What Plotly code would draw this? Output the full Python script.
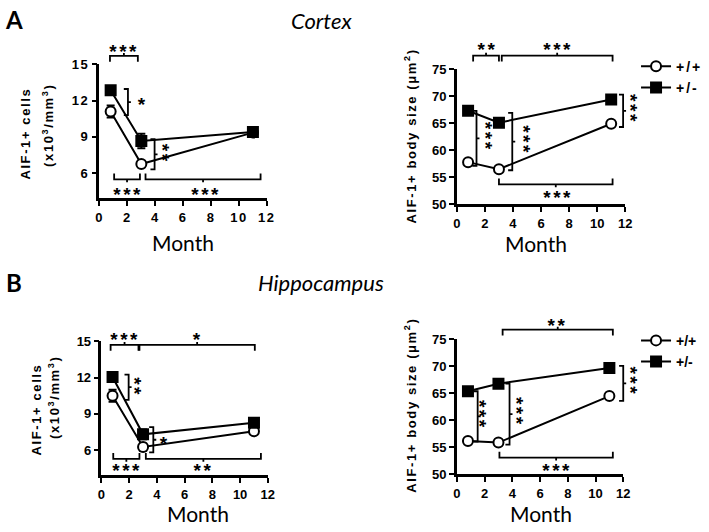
import plotly.graph_objects as go

# ---------------- data ----------------
months = [0.8, 3, 11]

ctx_cells_wt = [11.1, 6.75, 9.35]
ctx_cells_wt_err = [0.5, 0.25, 0.2]
ctx_cells_het = [12.85, 8.65, 9.4]
ctx_cells_het_err = [0.35, 0.6, 0.2]

ctx_size_wt = [57.8, 56.5, 64.9]
ctx_size_wt_err = [0.4, 0.4, 0.4]
ctx_size_het = [67.3, 65.1, 69.4]
ctx_size_het_err = [0.4, 0.7, 0.4]

hip_cells_wt = [10.5, 6.25, 7.55]
hip_cells_wt_err = [0.5, 0.3, 0.2]
hip_cells_het = [12.05, 7.3, 8.25]
hip_cells_het_err = [0.3, 0.4, 0.2]

hip_size_wt = [56.2, 55.9, 64.5]
hip_size_wt_err = [0.3, 0.3, 0.3]
hip_size_het = [65.4, 66.8, 69.7]
hip_size_het_err = [0.3, 0.6, 0.7]

x_ticks = [0, 2, 4, 6, 8, 10, 12]
cells_ticks = [6, 9, 12, 15]
size_ticks = [50, 55, 60, 65, 70, 75]
genotypes = ["+/+", "+/-"]

# significance brackets: (x0, x1, y, legs, text, text_x, text_y) horizontal
hbr = {
    1: [(0.75, 2.75, 15.7, "down", "***", 1.75, 16.4),
        (1.05, 2.9, 5.48, "up", "***", 2.0, 4.55),
        (3.3, 11.55, 5.48, "up", "***", 7.6, 4.55)],
    2: [(1.16, 3.0, 77.5, "down", "**", 2.1, 79.4),
        (3.2, 11.1, 77.5, "down", "***", 7.2, 79.4),
        (3.0, 11.1, 53.7, "up", "***", 7.2, 52.0)],
    3: [(0.66, 2.67, 14.7, "down", "***", 1.63, 15.5),
        (2.74, 11.06, 14.7, "down", "*", 6.9, 15.5),
        (0.85, 2.74, 5.27, "up", "***", 1.77, 4.6),
        (3.2, 11.5, 5.27, "up", "**", 7.3, 4.6)],
    4: [(3.3, 11.25, 76.8, "down", "**", 7.2, 78.3),
        (3.07, 11.25, 53.1, "up", "***", 7.2, 51.5)],
}
# vertical brackets: (x, y0, y1, text, text_x, text_y, rotated)
vbr = {
    1: [(2.04, 10.8, 12.96, "*", 3.1, 12.0, False),
        (3.95, 6.3, 8.8, "**", 4.8, 7.6, True)],
    2: [(1.4, 57.1, 67.3, "***", 2.3, 62.5, True),
        (3.95, 56.3, 66.9, "***", 5.0, 61.9, True),
        (11.85, 64.3, 70.3, "***", 12.65, 67.6, True)],
    3: [(1.96, 10.15, 12.25, "**", 2.67, 11.2, True),
        (3.74, 5.8, 7.9, "*", 4.56, 6.9, False)],
    4: [(1.5, 56.1, 65.4, "***", 1.95, 60.9, True),
        (3.8, 55.5, 66.8, "***", 4.6, 61.5, True),
        (12.0, 63.6, 70.1, "***", 12.8, 67.2, True)],
}

# ---------------- layout geometry ----------------
W, H = 709, 532
boxes = {  # left, right, top, bottom (px)
    1: (97, 267, 59, 197),
    2: (460, 631, 64, 203),
    3: (99, 268, 344, 482),
    4: (460, 629, 342, 481),
}
yranges = {1: [3.9, 15], 2: [50, 75], 3: [3.9, 15], 4: [50, 75]}
xr = [0, 12]

BOLD = "Liberation Sans"
CAL = "Lato"
STAR = dict(family=BOLD, size=19, color="black", weight="bold")

fig = go.Figure()

panel_data = {
    1: (ctx_cells_wt, ctx_cells_wt_err, ctx_cells_het, ctx_cells_het_err, None),
    2: (ctx_size_wt, ctx_size_wt_err, ctx_size_het, ctx_size_het_err, "legend"),
    3: (hip_cells_wt, hip_cells_wt_err, hip_cells_het, hip_cells_het_err, None),
    4: (hip_size_wt, hip_size_wt_err, hip_size_het, hip_size_het_err, "legend2"),
}

for p, (wt, wte, het, hete, leg) in panel_data.items():
    xa = "x" if p == 1 else f"x{p}"
    ya = "y" if p == 1 else f"y{p}"
    for name, vals, errs, opn in [(genotypes[0], wt, wte, True),
                                  (genotypes[1], het, hete, False)]:
        fig.add_trace(go.Scatter(
            x=months, y=vals, name=name, mode="lines+markers",
            xaxis=xa, yaxis=ya,
            line=dict(color="black", width=2),
            marker=dict(symbol="circle" if opn else "square", size=10,
                        color="white" if opn else "black",
                        line=dict(color="black", width=2)),
            error_y=dict(type="data", array=errs, color="black", thickness=2, width=4),
            showlegend=leg is not None,
            legend=leg if leg else "legend",
            cliponaxis=False,
        ))

    l, r, t, b = boxes[p]
    yr = yranges[p]
    axis_common = dict(showline=True, linecolor="black", linewidth=2.5, ticks="outside",
                       ticklen=5, tickwidth=2, tickcolor="black", showgrid=False,
                       zeroline=False, tickfont=dict(family=BOLD, size=13, color="black", weight="bold"),
                       fixedrange=True)
    xkey = "xaxis" if p == 1 else f"xaxis{p}"
    ykey = "yaxis" if p == 1 else f"yaxis{p}"
    fig.update_layout(**{
        xkey: dict(domain=[l / W, r / W], range=xr, tickvals=x_ticks, anchor=ya, **axis_common),
        ykey: dict(domain=[1 - b / H, 1 - t / H], range=yr,
                   tickvals=cells_ticks if p in (1, 3) else size_ticks, anchor=xa, **axis_common),
    })

    def px(xv, yv, l=l, r=r, t=t, b=b, yr=yr):
        fx = (l + (xv - xr[0]) / (xr[1] - xr[0]) * (r - l)) / W
        fy = 1 - (b - (yv - yr[0]) / (yr[1] - yr[0]) * (b - t)) / H
        return fx, fy

    LEG = 6  # px
    for (x0, x1, y, d, txt, tx, ty) in hbr[p]:
        a = px(x0, y)
        c = px(x1, y)
        s = -1 if d == "down" else 1
        dy = s * LEG / H
        mid = ((a[0] + c[0]) / 2, a[1])
        path = (f"M {a[0]},{a[1] + dy} L {a[0]},{a[1]} L {c[0]},{c[1]} L {c[0]},{c[1] + dy} "
                f"M {mid[0]},{mid[1]} L {mid[0]},{mid[1] - s * 3 / H}")
        fig.add_shape(type="path", path=path, xref="paper", yref="paper",
                      line=dict(color="black", width=1.8))
        ax_, ay_ = px(tx, ty)
        fig.add_annotation(x=ax_, y=ay_, xref="paper", yref="paper", text=txt, showarrow=False,
                           xanchor="center", yanchor="middle", font=STAR, yshift=-4, xshift=1)
    for (x, y0, y1, txt, tx, ty, rot) in vbr[p]:
        a = px(x, y0)
        c = px(x, y1)
        dx = LEG * 0.7 / W
        midy = (a[1] + c[1]) / 2
        path = (f"M {a[0] - dx},{a[1]} L {a[0]},{a[1]} L {c[0]},{c[1]} L {c[0] - dx},{c[1]} "
                f"M {a[0]},{midy} L {a[0] + 3 / W},{midy}")
        fig.add_shape(type="path", path=path, xref="paper", yref="paper",
                      line=dict(color="black", width=1.8))
        ax_, ay_ = px(tx, ty)
        fig.add_annotation(x=ax_, y=ay_, xref="paper", yref="paper", text=txt, showarrow=False,
                           xanchor="center", yanchor="middle",
                           textangle=90 if rot else 0, font=STAR,
                           xshift=-4 if rot else 0, yshift=0 if rot else -4)

# ---------------- text ----------------
def ann(x, y, text, size, family, angle=0, weight="normal", style="normal"):
    fig.add_annotation(x=x / W, y=1 - y / H, xref="paper", yref="paper", text=text,
                       showarrow=False, textangle=angle, xanchor="center", yanchor="middle",
                       font=dict(family=family, size=size, color="black", weight=weight, style=style))

ann(10, 13, "A", 24, CAL, weight="bold")
ann(10, 283, "B", 24, CAL, weight="bold")
ann(322, 14, "Cortex", 22, CAL, style="italic")
ann(322, 284, "Hippocampus", 22, CAL, style="italic")
ann(182, 242, "Month", 21, CAL)
ann(540, 243, "Month", 21, CAL)
ann(197, 521, "Month", 21, CAL)
ann(545, 521, "Month", 21, CAL)
ann(22, 130, "AIF-1+ cells", 13, BOLD, angle=-90, weight="bold")
ann(44, 122, "(x10<sup>3</sup>/mm<sup>3</sup>)", 13, BOLD, angle=-90, weight="bold")
ann(33, 414, "AIF-1+ cells", 13, BOLD, angle=-90, weight="bold")
ann(50, 402, "(x10<sup>3</sup>/mm<sup>3</sup>)", 13, BOLD, angle=-90, weight="bold")
ann(413, 133, "AIF-1+ body size (μm<sup>2</sup>)", 13, BOLD, angle=-90, weight="bold")
ann(413, 410, "AIF-1+ body size (μm<sup>2</sup>)", 13, BOLD, angle=-90, weight="bold")

legfont = dict(family=BOLD, size=14, color="black", weight="bold")
fig.update_layout(
    width=W, height=H, margin=dict(l=0, r=0, t=0, b=0),
    plot_bgcolor="white", paper_bgcolor="white",
    legend=dict(x=642 / W, y=1 - 45 / H, xanchor="left", yanchor="top", font=legfont,
                bgcolor="rgba(0,0,0,0)", tracegroupgap=0),
    legend2=dict(x=642 / W, y=1 - 327 / H, xanchor="left", yanchor="top", font=legfont,
                 bgcolor="rgba(0,0,0,0)", tracegroupgap=0),
)

spacing_js = """
document.body.style.margin='0';document.body.style.overflow='hidden';
var gd=document.querySelector('.plotly-graph-div');
gd.querySelectorAll('.xtick text, .ytick text').forEach(function(e){e.style.letterSpacing='1.5px';});
gd.querySelectorAll('.legendtext').forEach(function(e){e.style.letterSpacing='2px';});
gd.querySelectorAll('.annotation-text').forEach(function(e){
  var t=e.textContent;
  if(t.indexOf('AIF')>=0||t.indexOf('x10')>=0){e.style.letterSpacing='1.6px';}
  else if(/^\\*+$/.test(t)){e.style.letterSpacing='2.5px';}
});
"""

fig.write_html("out.html", config={"displayModeBar": False}, post_script=spacing_js)
